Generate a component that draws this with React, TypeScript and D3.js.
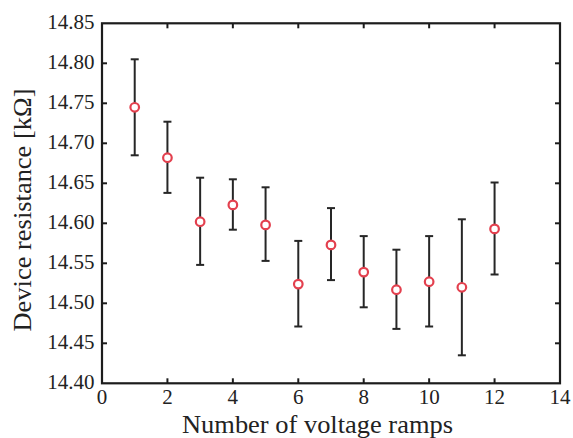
import React from "react";
import * as d3 from "d3";

const ramps = [1, 2, 3, 4, 5, 6, 7, 8, 9, 10, 11, 12];
const resistance = [14.745, 14.682, 14.602, 14.623, 14.598, 14.524, 14.573, 14.539, 14.517, 14.527, 14.52, 14.593];
const errUpper = [14.805, 14.727, 14.657, 14.655, 14.645, 14.578, 14.619, 14.584, 14.567, 14.584, 14.605, 14.651];
const errLower = [14.685, 14.638, 14.548, 14.592, 14.553, 14.471, 14.529, 14.495, 14.468, 14.471, 14.435, 14.536];
const xTicks = [0, 2, 4, 6, 8, 10, 12, 14];
const yTicks = [14.4, 14.45, 14.5, 14.55, 14.6, 14.65, 14.7, 14.75, 14.8, 14.85];
const xLabel = "Number of voltage ramps";
const yLabel = "Device resistance [kΩ]";

const W = 573;
const H = 438;
const left = 102;
const right = 560;
const top = 23.3;
const bottom = 383.3;

export default function App() {
  const x = d3.scaleLinear().domain([0, 14]).range([left, right]);
  const y = d3.scaleLinear().domain([14.4, 14.85]).range([bottom, top]);
  const axisColor = "#1c1c1c";
  const textStyle = { fontFamily: '"Liberation Serif", "Times New Roman", "DejaVu Serif", serif' };
  const tickLen = 5;
  return (
    <svg
      width={W}
      height={H}
      style={{ position: "absolute", left: 0, top: 0, background: "#fff" }}
    >
      <rect x={0} y={0} width={W} height={H} fill="#fff" />
      {xTicks.slice(1, -1).map((t) => (
        <g key={"xt" + t}>
          <line x1={x(t)} x2={x(t)} y1={bottom} y2={bottom - tickLen} stroke={axisColor} strokeWidth={2} />
          <line x1={x(t)} x2={x(t)} y1={top} y2={top + tickLen} stroke={axisColor} strokeWidth={2} />
        </g>
      ))}
      {yTicks.slice(1, -1).map((t) => (
        <g key={"yt" + t}>
          <line x1={left} x2={left + tickLen} y1={y(t)} y2={y(t)} stroke={axisColor} strokeWidth={2} />
          <line x1={right} x2={right - tickLen} y1={y(t)} y2={y(t)} stroke={axisColor} strokeWidth={2} />
        </g>
      ))}
      <rect
        x={left}
        y={top}
        width={right - left}
        height={bottom - top}
        fill="none"
        stroke={axisColor}
        strokeWidth={2.2}
      />
      {xTicks.map((t) => (
        <text key={"xl" + t} x={x(t)} y={404} textAnchor="middle" fontSize={21} fill="#222" style={textStyle}>
          {t}
        </text>
      ))}
      {yTicks.map((t) => (
        <text key={"yl" + t} x={94.5} y={y(t) + 5.5} textAnchor="end" fontSize={21} fill="#222" style={textStyle}>
          {t.toFixed(2)}
        </text>
      ))}
      {ramps.map((r, i) => (
        <g key={"e" + r} stroke="#262626" strokeWidth={2}>
          <line x1={x(r)} x2={x(r)} y1={y(errUpper[i])} y2={y(errLower[i])} />
          <line x1={x(r) - 4} x2={x(r) + 4} y1={y(errUpper[i])} y2={y(errUpper[i])} />
          <line x1={x(r) - 4} x2={x(r) + 4} y1={y(errLower[i])} y2={y(errLower[i])} />
        </g>
      ))}
      {ramps.map((r, i) => (
        <circle
          key={"m" + r}
          cx={x(r)}
          cy={y(resistance[i])}
          r={4.3}
          fill="#fff"
          stroke="#e3404e"
          strokeWidth={2.2}
        />
      ))}
      <text
        x={317.5}
        y={433}
        textAnchor="middle"
        fontSize={25}
        fill="#222"
        textLength={271}
        lengthAdjust="spacingAndGlyphs"
        style={textStyle}
      >
        {xLabel}
      </text>
      <text
        transform={`translate(31,210) rotate(-90)`}
        textAnchor="middle"
        fontSize={25}
        fill="#222"
        textLength={243}
        lengthAdjust="spacingAndGlyphs"
        style={textStyle}
      >
        {yLabel}
      </text>
    </svg>
  );
}
